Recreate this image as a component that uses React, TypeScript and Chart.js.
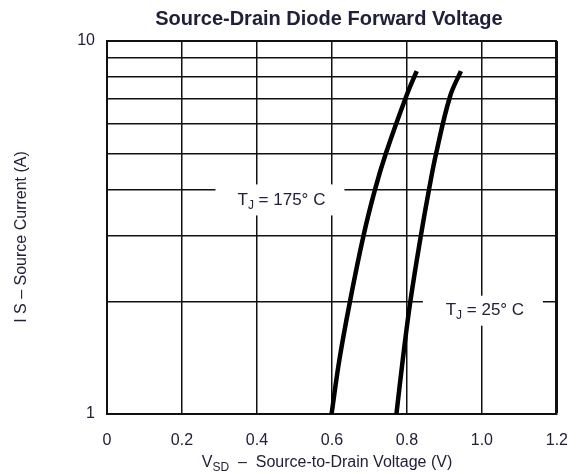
import React, { useEffect, useRef } from "react";
import { Chart, registerables } from "chart.js";

Chart.register(...registerables);

// Source-drain diode forward characteristic, read at two junction temperatures
const currentA = [1, 1.4, 2, 3, 4, 5, 7.1, 8.3];
const vsdAt175C = [0.599, 0.62, 0.648, 0.684, 0.715, 0.744, 0.798, 0.826];
const vsdAt25C = [0.772, 0.789, 0.809, 0.837, 0.859, 0.878, 0.915, 0.944];

const xTickValues = [0, 0.2, 0.4, 0.6, 0.8, 1.0, 1.2];
const xTickLabels = ["0", "0.2", "0.4", "0.6", "0.8", "1.0", "1.2"];
const yGridValues = [1, 2, 3, 4, 5, 6, 7, 8, 9, 10];
const yLabelled = [1, 10];

const chartTitle = "Source-Drain Diode Forward Voltage";
const yTitle = "I S \u2013 Source Current (A)";
const label175 = { main: "T", sub: "J", rest: " = 175\u00b0 C", v: 0.46, i: 4 };
const label25 = { main: "T", sub: "J", rest: " = 25\u00b0 C", v: 1.0, i: 2 };

const FONT = "'Liberation Sans', Arial, Helvetica, sans-serif";
const INK = "#20203a";
const GRID = "#111";

type Part = { t: string; size: number; dy?: number; bold?: boolean };

function drawParts(ctx: CanvasRenderingContext2D, parts: Part[], cx: number, cy: number) {
  ctx.save();
  ctx.textBaseline = "middle";
  ctx.textAlign = "left";
  let total = 0;
  const widths = parts.map((p) => {
    ctx.font = `${p.bold ? "bold " : ""}${p.size}px ${FONT}`;
    const w = ctx.measureText(p.t).width;
    total += w;
    return w;
  });
  let x = cx - total / 2;
  parts.forEach((p, k) => {
    ctx.font = `${p.bold ? "bold " : ""}${p.size}px ${FONT}`;
    ctx.fillText(p.t, x, cy + (p.dy || 0));
    x += widths[k];
  });
  ctx.restore();
}

const annotations = {
  id: "annotations",
  beforeDatasetsDraw(chart: any) {
    const { ctx, scales } = chart;
    const x = scales.x;
    const y = scales.y;
    ctx.save();
    ctx.fillStyle = "#fff";
    // clear the grid behind the temperature labels
    const c1x = x.getPixelForValue(label175.v);
    const c1y = y.getPixelForValue(label175.i);
    ctx.fillRect(c1x - 64, c1y - 5, 129, 31);
    const c2x = x.getPixelForValue(label25.v);
    const c2y = y.getPixelForValue(label25.i);
    ctx.fillRect(c2x - 59, c2y - 6, 120, 30);
    ctx.restore();
  },
  afterDraw(chart: any) {
    const { ctx, scales, chartArea } = chart;
    const x = scales.x;
    const y = scales.y;
    ctx.save();
    ctx.fillStyle = INK;

    drawParts(ctx, [{ t: chartTitle, size: 20, bold: true }], (chartArea.left + chartArea.right) / 2 - 3, 19);

    drawParts(
      ctx,
      [
        { t: "V", size: 16 },
        { t: "SD", size: 12, dy: 5 },
        { t: "  \u2013  Source-to-Drain Voltage (V)", size: 16 },
      ],
      327,
      463
    );

    ctx.save();
    ctx.translate(22, 237);
    ctx.rotate(-Math.PI / 2);
    drawParts(ctx, [{ t: yTitle, size: 16 }], 0, 0);
    ctx.restore();

    for (const l of [label175, label25]) {
      const cx = x.getPixelForValue(l.v);
      const cy = y.getPixelForValue(l.i) + 11;
      drawParts(
        ctx,
        [
          { t: l.main, size: 17 },
          { t: l.sub, size: 12, dy: 5 },
          { t: l.rest, size: 17 },
        ],
        l === label175 ? cx + 2 : cx + 3,
        l === label175 ? cy : cy - 2
      );
    }
    ctx.restore();
  },
};

export default function App() {
  const ref = useRef<HTMLCanvasElement | null>(null);

  useEffect(() => {
    if (!ref.current) return;
    const chart = new Chart(ref.current, {
      type: "line",
      data: {
        datasets: [
          {
            label: "TJ = 175 C",
            data: currentA.map((i, k) => ({ x: vsdAt175C[k], y: i })),
            borderColor: "#000",
            borderWidth: 4.5,
            pointRadius: 0,
            tension: 0.4,
          },
          {
            label: "TJ = 25 C",
            data: currentA.map((i, k) => ({ x: vsdAt25C[k], y: i })),
            borderColor: "#000",
            borderWidth: 4.5,
            pointRadius: 0,
            tension: 0.4,
          },
        ],
      },
      options: {
        animation: false,
        responsive: false,
        devicePixelRatio: 1,
        layout: { padding: { left: 0, top: 41, right: 25, bottom: 0 } },
        plugins: {
          legend: { display: false },
          tooltip: { enabled: false },
          title: { display: false },
        },
        scales: {
          x: {
            type: "linear",
            min: 0,
            max: 1.2,
            afterBuildTicks: (scale: any) => {
              scale.ticks = xTickValues.map((v) => ({ value: v }));
            },
            afterFit: (scale: any) => {
              scale.height = 60;
            },
            ticks: {
              padding: 17,
              color: INK,
              font: { family: FONT, size: 16 },
              maxRotation: 0,
              autoSkip: false,
              callback: (v: any) => {
                const k = xTickValues.findIndex((t) => Math.abs(t - Number(v)) < 1e-6);
                return k >= 0 ? xTickLabels[k] : "";
              },
            },
            grid: {
              color: GRID,
              drawTicks: false,
              lineWidth: (c: any) => (c.tick && Math.abs(c.tick.value - 1.2) < 1e-6 ? 3 : 1.5),
            },
            border: { display: true, color: GRID, width: 2 },
          },
          y: {
            type: "logarithmic",
            min: 1,
            max: 10,
            afterBuildTicks: (scale: any) => {
              scale.ticks = yGridValues.map((v) => ({ value: v }));
            },
            afterFit: (scale: any) => {
              scale.width = 107;
            },
            ticks: {
              padding: 12,
              color: INK,
              autoSkip: false,
              font: { family: FONT, size: 16 },
              callback: (v: any) => (yLabelled.includes(Number(v)) ? String(v) : ""),
            },
            grid: {
              color: GRID,
              drawTicks: false,
              lineWidth: (c: any) => (c.tick && c.tick.value === 10 ? 2 : 1.5),
            },
            border: { display: true, color: GRID, width: 2 },
          },
        },
      },
      plugins: [annotations],
    } as any);
    return () => chart.destroy();
  }, []);

  return (
    <div style={{ position: "fixed", left: 0, top: 0, width: 585, height: 474, background: "#fff" }}>
      <canvas ref={ref} width={585} height={474} />
    </div>
  );
}
